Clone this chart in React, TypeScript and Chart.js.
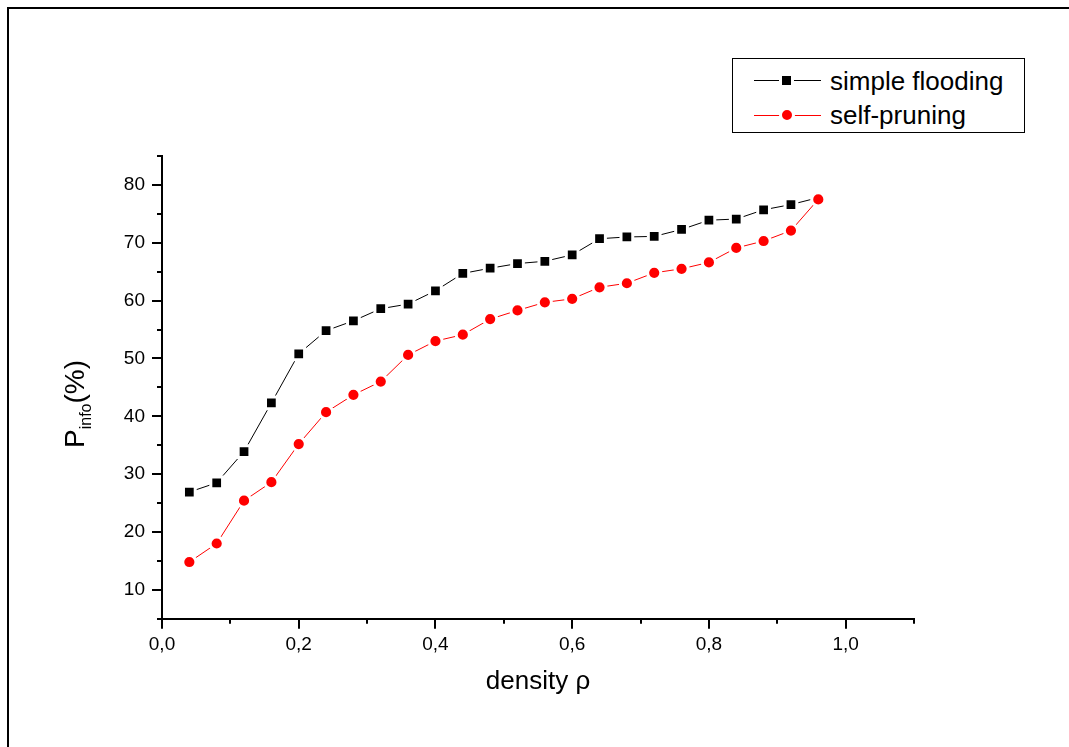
import React, { useEffect, useRef } from 'react';
import { Chart, registerables } from 'chart.js';

Chart.register(...registerables);

// ---- data ----
const densities: number[] = [
  0.04, 0.08, 0.12, 0.16, 0.2, 0.24, 0.28, 0.32, 0.36, 0.4, 0.44, 0.48,
  0.52, 0.56, 0.6, 0.64, 0.68, 0.72, 0.76, 0.8, 0.84, 0.88, 0.92, 0.96,
];
const simpleFlooding: number[] = [
  26.9, 28.5, 33.9, 42.3, 50.8, 54.8, 56.5, 58.6, 59.4, 61.7, 64.7, 65.6,
  66.4, 66.8, 67.9, 70.7, 71.0, 71.1, 72.3, 73.9, 74.1, 75.7, 76.6, 77.8,
];
const selfPruning: number[] = [
  14.8, 18.0, 25.4, 28.6, 35.2, 40.7, 43.7, 46.0, 50.6, 53.0, 54.1, 56.8,
  58.3, 59.7, 60.3, 62.3, 63.0, 64.8, 65.5, 66.6, 69.1, 70.3, 72.1, 77.5,
];
const seriesNames: string[] = ['simple flooding', 'self-pruning'];
const xMajorTicks: number[] = [0, 0.2, 0.4, 0.6, 0.8, 1.0];
const xMinorTicks: number[] = [0.1, 0.3, 0.5, 0.7, 0.9, 1.1];
const yMajorTicks: number[] = [10, 20, 30, 40, 50, 60, 70, 80];
const yMinorTicks: number[] = [5, 15, 25, 35, 45, 55, 65, 75, 85];
const xTitle = 'density ρ';
const yTitleMain = 'P';
const yTitleSub = 'info';
const yTitleTail = '(%)';

const FONT = "'Liberation Sans', Arial, Helvetica, sans-serif";

export default function App() {
  const ref = useRef<HTMLCanvasElement>(null);

  useEffect(() => {
    if (!ref.current) return;

    const minorTicks = {
      id: 'minorTicks',
      afterDraw(chart: any) {
        const { ctx, chartArea } = chart;
        const xs = chart.scales.x;
        const ys = chart.scales.y;
        ctx.save();
        ctx.strokeStyle = '#000';
        ctx.lineWidth = 2;
        xMinorTicks.forEach((v) => {
          const px = Math.round(xs.getPixelForValue(v));
          ctx.beginPath();
          ctx.moveTo(px, chartArea.bottom);
          ctx.lineTo(px, chartArea.bottom + 5);
          ctx.stroke();
        });
        yMinorTicks.forEach((v) => {
          const py = Math.round(ys.getPixelForValue(v));
          ctx.beginPath();
          ctx.moveTo(chartArea.left, py);
          ctx.lineTo(chartArea.left - 5, py);
          ctx.stroke();
        });
        ctx.restore();
      },
    };

    const yTitle = {
      id: 'yTitle',
      afterDraw(chart: any) {
        const { ctx } = chart;
        ctx.save();
        ctx.translate(84, 448);
        ctx.rotate(-Math.PI / 2);
        ctx.fillStyle = '#000';
        ctx.textBaseline = 'alphabetic';
        ctx.textAlign = 'left';
        ctx.font = `28px ${FONT}`;
        ctx.fillText(yTitleMain, 0, 0);
        let x = ctx.measureText(yTitleMain).width;
        ctx.font = `16px ${FONT}`;
        ctx.fillText(yTitleSub, x, 7);
        x += ctx.measureText(yTitleSub).width;
        ctx.font = `28px ${FONT}`;
        ctx.fillText(yTitleTail, x, 0);
        ctx.restore();
      },
    };

    const chart = new Chart(ref.current, {
      type: 'line',
      data: {
        datasets: [
          {
            label: seriesNames[0],
            data: densities.map((d, i) => ({ x: d, y: simpleFlooding[i] })),
            borderColor: '#000000',
            borderWidth: 1,
            pointStyle: 'rect',
            pointRadius: 8.3,
            pointBorderWidth: 3,
            pointBorderColor: '#ffffff',
            pointBackgroundColor: '#000000',
            order: 2,
            clip: false,
          },
          {
            label: seriesNames[1],
            data: densities.map((d, i) => ({ x: d, y: selfPruning[i] })),
            borderColor: '#ff0000',
            borderWidth: 1,
            pointStyle: 'circle',
            pointRadius: 6.6,
            pointBorderWidth: 3,
            pointBorderColor: '#ffffff',
            pointBackgroundColor: '#ff0000',
            order: 1,
            clip: false,
          },
        ],
      } as any,
      options: {
        responsive: false,
        animation: false,
        devicePixelRatio: 1,
        events: [],
        layout: { padding: { left: 0, right: 155, top: 156, bottom: 38.3 } },
        plugins: { legend: { display: false }, tooltip: { enabled: false } },
        scales: {
          x: {
            type: 'linear',
            position: 'bottom',
            min: 0,
            max: 1.1,
            afterBuildTicks: (scale: any) => {
              scale.ticks = xMajorTicks.map((v) => ({ value: v }));
            },
            afterFit: (scale: any) => {
              scale.height = 90;
            },
            ticks: {
              autoSkip: false,
              maxRotation: 0,
              color: '#000',
              padding: 5,
              font: { family: FONT, size: 19 },
              callback: (v: any) => Number(v).toFixed(1).replace('.', ','),
            },
            grid: {
              display: true,
              drawOnChartArea: false,
              drawTicks: true,
              tickLength: 10,
              color: '#000',
              lineWidth: 2,
            },
            border: { display: true, color: '#000', width: 2 },
            title: {
              display: true,
              text: xTitle,
              color: '#000',
              font: { family: FONT, size: 26 },
              padding: { top: 0, bottom: 11 },
            },
          },
          y: {
            type: 'linear',
            min: 5,
            max: 85,
            afterBuildTicks: (scale: any) => {
              scale.ticks = yMajorTicks.map((v) => ({ value: v }));
            },
            afterFit: (scale: any) => {
              scale.width = 162;
            },
            ticks: {
              color: '#000',
              padding: 7,
              font: { family: FONT, size: 19 },
              callback: (v: any) => String(v),
            },
            grid: {
              display: true,
              drawOnChartArea: false,
              drawTicks: true,
              tickLength: 10,
              color: '#000',
              lineWidth: 2,
            },
            border: { display: true, color: '#000', width: 2 },
          },
        },
      } as any,
      plugins: [minorTicks, yTitle],
    });

    return () => chart.destroy();
  }, []);

  const legendRow = (top: number, name: string, color: string, round: boolean) => (
    <div style={{ position: 'absolute', left: 0, top: 0 }}>
      <div
        style={{
          position: 'absolute',
          left: 754,
          top: top - 0.5,
          width: 67,
          height: 1,
          background: color,
        }}
      />
      <div
        style={{
          position: 'absolute',
          left: 786.7 - (round ? 8 : 7.25),
          top: top - (round ? 8 : 7.25),
          width: round ? 10 : 8.5,
          height: round ? 10 : 8.5,
          background: color,
          border: '3px solid #fff',
          borderRadius: round ? '50%' : 0,
        }}
      />
      <div
        style={{
          position: 'absolute',
          left: 830,
          top: top - 15,
          height: 30,
          lineHeight: '30px',
          fontFamily: FONT,
          fontSize: 26,
          color: '#000',
          whiteSpace: 'nowrap',
        }}
      >
        {name}
      </div>
    </div>
  );

  return (
    <div
      style={{
        position: 'fixed',
        left: 0,
        top: 0,
        width: 1069,
        height: 747,
        background: '#fff',
        overflow: 'hidden',
      }}
    >
      <div
        style={{
          position: 'absolute',
          left: 7,
          top: 7,
          width: 1200,
          height: 900,
          borderLeft: '2px solid #000',
          borderTop: '2px solid #000',
        }}
      />
      <canvas
        ref={ref}
        width={1069}
        height={747}
        style={{ position: 'absolute', left: 0, top: 0, width: 1069, height: 747 }}
      />
      <div
        style={{
          position: 'absolute',
          left: 732,
          top: 58,
          width: 291,
          height: 73,
          border: '1px solid #000',
          background: '#fff',
        }}
      />
      {legendRow(80.7, seriesNames[0], '#000', false)}
      {legendRow(115, seriesNames[1], '#ff0000', true)}
    </div>
  );
}
